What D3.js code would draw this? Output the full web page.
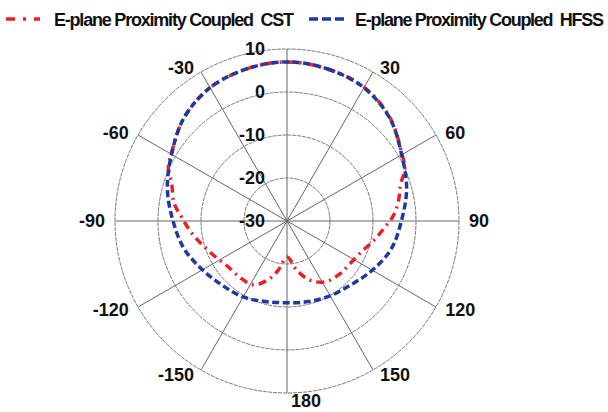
<!DOCTYPE html>
<html>
<head>
<meta charset="utf-8">
<script src="https://cdn.jsdelivr.net/npm/d3@7"></script>
<style>
  body { margin: 0; background: #fff; }
  text { font-family: "Liberation Sans", Arial, sans-serif; font-weight: bold; fill: #111; white-space: pre; }
</style>
</head>
<body>
<svg id="chart" width="608" height="412"></svg>
<script>
// ring levels (dB) and angle ticks (deg)
var ringTicks = [10, 0, -10, -20, -30],
    angleTicks = [30, 60, 90, 120, 150, 180, -150, -120, -90, -60, -30],
    seriesNames = ["E-plane Proximity Coupled  CST", "E-plane Proximity Coupled  HFSS"];

// HFSS
var hfssAngles = [0, 15, 30, 45, 60, 75, 90, 105, 120, 135, 150, 165, 180,
                  -165, -150, -135, -120, -105, -90, -75, -60, -45, -30, -15],
    hfssGain = [7.0, 6.6, 5.8, 3.8, 0.8, -1.2, -3.4, -4.9, -7.1, -9.0, -9.9, -10.6, -11.0,
                -10.6, -9.6, -8.8, -7.3, -5.2, -3.5, -1.2, 1.0, 3.9, 5.8, 6.6];

// CST
var cstAngles = [0, 15, 30, 45, 60, 66, 72, 80, 87, 94, 103, 112, 124, 135, 148, 159, 169, 180,
                 -170, -162, -152, -140, -127, -116, -105, -97, -88, -81, -72, -66, -60, -45, -30, -15],
    cstGain = [7.0, 6.6, 5.9, 3.9, 0.9, 0.0, -2.2, -3.7, -5.2, -7.3, -9.4, -11.2, -12.3, -12.6, -13.3, -15.3, -18.4, -21.6,
               -18.4, -15.6, -13.2, -12.9, -12.6, -11.3, -9.4, -7.6, -5.5, -3.4, -1.8, 0.2, 1.1, 3.9, 5.8, 6.6];

var svg = d3.select("#chart"),
    cx = 287, cy = 221, R = 172,
    rad = Math.PI / 180;

var r = d3.scaleLinear().domain([-30, 10]).range([0, R]);

var g = svg.append("g").attr("transform", "translate(" + cx + "," + cy + ")");

// rings
g.selectAll("circle.ring")
    .data(ringTicks.filter(function (d) { return d > -30; }))
    .enter().append("circle")
    .attr("r", function (d) { return r(d); })
    .attr("fill", "none")
    .attr("stroke", "#777")
    .attr("stroke-width", 1)
    .attr("stroke-dasharray", "4,1");

// spokes every 30 deg
g.selectAll("line.spoke")
    .data(d3.range(0, 360, 30))
    .enter().append("line")
    .attr("x1", 0).attr("y1", 0)
    .attr("x2", function (d) { return R * Math.sin(d * rad); })
    .attr("y2", function (d) { return -R * Math.cos(d * rad); })
    .attr("stroke", "#666")
    .attr("stroke-width", 1);

// ring labels
g.selectAll("text.ring")
    .data(ringTicks)
    .enter().append("text")
    .attr("x", -22)
    .attr("y", function (d) { return -r(d); })
    .attr("dy", "0.36em")
    .attr("text-anchor", "end")
    .style("font-size", "18px")
    .text(function (d) { return d; });

// angle labels
g.selectAll("text.angle")
    .data(angleTicks)
    .enter().append("text")
    .attr("x", function (d) {
        var s = Math.sin(d * rad);
        return (R + 6) * s + (s >= -0.01 ? 4 : -4);
    })
    .attr("y", function (d) { return -(R + 5) * Math.cos(d * rad) + (d === 180 ? 3 : 0); })
    .attr("dy", "0.36em")
    .attr("text-anchor", function (d) { return Math.sin(d * rad) < -0.01 ? "end" : "start"; })
    .style("font-size", "18px")
    .text(function (d) { return d; });

function toPoints(angles, gains) {
    return angles.map(function (a, i) { return [a, gains[i]]; })
        .sort(function (p, q) { return ((p[0] + 360) % 360) - ((q[0] + 360) % 360); });
}

var line = d3.lineRadial()
    .angle(function (d) { return d[0] * rad; })
    .radius(function (d) { return r(d[1]); })
    .curve(d3.curveCatmullRomClosed.alpha(0.5));

// CST (under)
g.append("path")
    .datum(toPoints(cstAngles, cstGain))
    .attr("d", line)
    .attr("fill", "none")
    .attr("stroke", "#e8202a")
    .attr("stroke-width", 3.5)
    .attr("stroke-dasharray", "8,5,2,5");

// HFSS (on top)
g.append("path")
    .datum(toPoints(hfssAngles, hfssGain))
    .attr("d", line)
    .attr("fill", "none")
    .attr("stroke", "#1f3a9e")
    .attr("stroke-width", 3.5)
    .attr("stroke-dasharray", "7,3.5");

// legend
var legend = svg.append("g");
legend.append("line")
    .attr("x1", 6).attr("x2", 40).attr("y1", 19).attr("y2", 19)
    .attr("stroke", "#e8202a").attr("stroke-width", 3.5)
    .attr("stroke-dasharray", "9,8,3,8");
legend.append("text")
    .attr("x", 54).attr("y", 26)
    .attr("textLength", 240)
    .style("font-size", "18px")
    .text(seriesNames[0]);
legend.append("line")
    .attr("x1", 309).attr("x2", 345).attr("y1", 19).attr("y2", 19)
    .attr("stroke", "#1f3a9e").attr("stroke-width", 3.5)
    .attr("stroke-dasharray", "9,4");
legend.append("text")
    .attr("x", 355).attr("y", 26)
    .attr("textLength", 249)
    .style("font-size", "18px")
    .text(seriesNames[1]);
</script>
</body>
</html>
